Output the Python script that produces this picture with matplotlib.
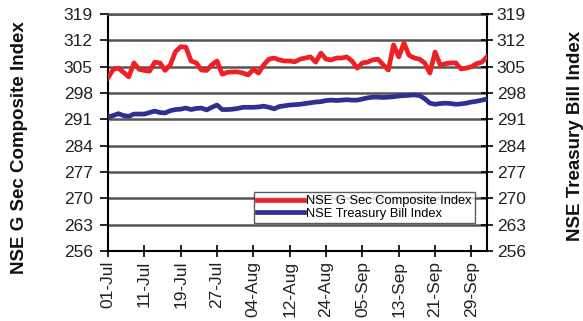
import matplotlib
matplotlib.use("Agg")
import matplotlib.pyplot as plt
import numpy as np

plt.rcParams['font.family'] = ['Liberation Sans', 'DejaVu Sans']

tick_labels = ["01-Jul", "11-Jul", "19-Jul", "27-Jul", "04-Aug", "12-Aug",
               "24-Aug", "05-Sep", "13-Sep", "21-Sep", "29-Sep"]
tick_step = 7

gsec = [302.0, 304.3, 304.6, 303.5, 302.3, 306.0, 304.3, 304.0, 303.8, 306.2,
        306.0, 304.0, 305.5, 309.0, 310.3, 310.2, 306.5, 306.0, 304.1, 304.0,
        305.5, 306.5, 303.0, 303.5, 303.6, 303.6, 303.3, 302.8, 304.3, 303.3,
        305.5, 307.0, 307.3, 306.8, 306.5, 306.5, 306.3, 307.0, 307.3, 307.6,
        306.2, 308.6, 307.0, 306.8, 307.3, 307.3, 307.6, 306.5, 304.6, 306.0,
        306.2, 306.8, 307.0, 305.5, 304.1, 310.8, 307.6, 311.3, 308.0, 307.3,
        307.0, 306.0, 303.3, 308.9, 305.4, 305.8, 306.0, 306.0, 304.4, 304.6,
        305.0, 305.8, 306.2, 307.6]

tbill = [291.6, 292.0, 292.5, 292.0, 291.8, 292.4, 292.4, 292.4, 292.8, 293.2,
         292.8, 292.7, 293.3, 293.6, 293.7, 294.0, 293.6, 293.9, 294.0, 293.5,
         294.2, 294.8, 293.6, 293.6, 293.7, 293.9, 294.2, 294.2, 294.2, 294.3,
         294.5, 294.2, 293.8, 294.4, 294.6, 294.8, 294.9, 295.0, 295.2, 295.4,
         295.6, 295.7, 296.0, 296.1, 296.0, 296.1, 296.2, 296.1, 296.1, 296.4,
         296.7, 296.9, 296.9, 296.8, 296.9, 297.0, 297.2, 297.3, 297.4, 297.5,
         297.3, 296.5, 295.3, 295.0, 295.2, 295.3, 295.2, 295.0, 295.1, 295.3,
         295.6, 295.8, 296.1, 296.4]

yticks = [256, 263, 270, 277, 284, 291, 298, 305, 312, 319]

fig = plt.figure(figsize=(5.83, 3.21), dpi=100)
ax = fig.add_axes([108/583, 1-251/321, (487-108)/583, (251-14)/321])

x = np.arange(len(gsec))
ax.plot(x, gsec, color='#ee2024', lw=3.4, label='NSE G Sec Composite Index',
        solid_joinstyle='round', zorder=3)
ax.plot(x, tbill, color='#2e3192', lw=3.4, label='NSE Treasury Bill Index',
        solid_joinstyle='round', zorder=3)

ax.set_xlim(0, len(gsec) - 1)
ax.set_ylim(256, 319)
ax.set_yticks(yticks)
ax.set_yticklabels([str(v) for v in yticks], fontsize=12.5, color='#222222')
ax.set_xticks(np.arange(len(tick_labels)) * tick_step)
ax.set_xticklabels(tick_labels, rotation=90, fontsize=12.5, color='#222222')
ax.grid(axis='y', color='#555555', lw=1.8)
ax.set_axisbelow(True)
ax.tick_params(axis='y', direction='out', length=6, width=1.2, pad=5)
ax.tick_params(axis='x', direction='inout', length=8, width=1.2, pad=3)
for s in ['left', 'right', 'bottom']:
    ax.spines[s].set_linewidth(1.5)
ax.spines['top'].set_color('#555555')
ax.spines['top'].set_linewidth(1.8)

ax2 = ax.twinx()
ax2.set_ylim(256, 319)
ax2.set_yticks(yticks)
ax2.set_yticklabels([str(v) for v in yticks], fontsize=12.5, color='#222222')
ax2.tick_params(axis='y', direction='inout', length=8, width=1.2, pad=3)
for s in ax2.spines.values():
    s.set_visible(False)

fig.text(20/583, 1-148/321, 'NSE G Sec Composite Index', rotation=90,
         fontsize=13.5, fontweight='bold', ha='center', va='center', color='#111111')
fig.text(576/583, 1-136/321, 'NSE Treasury Bill Index', rotation=90,
         fontsize=13.5, fontweight='bold', ha='center', va='center', color='#111111')

leg = ax.legend(loc='lower right', bbox_to_anchor=(475/583, 1-223/321),
                bbox_transform=fig.transFigure, fontsize=9.3, frameon=True,
                fancybox=False, edgecolor='#333333', handlelength=3.6,
                handletextpad=0.2, borderpad=0.25, labelspacing=0.05,
                borderaxespad=0)
leg.get_frame().set_linewidth(1.0)

fig.savefig('out.png', dpi=100)
